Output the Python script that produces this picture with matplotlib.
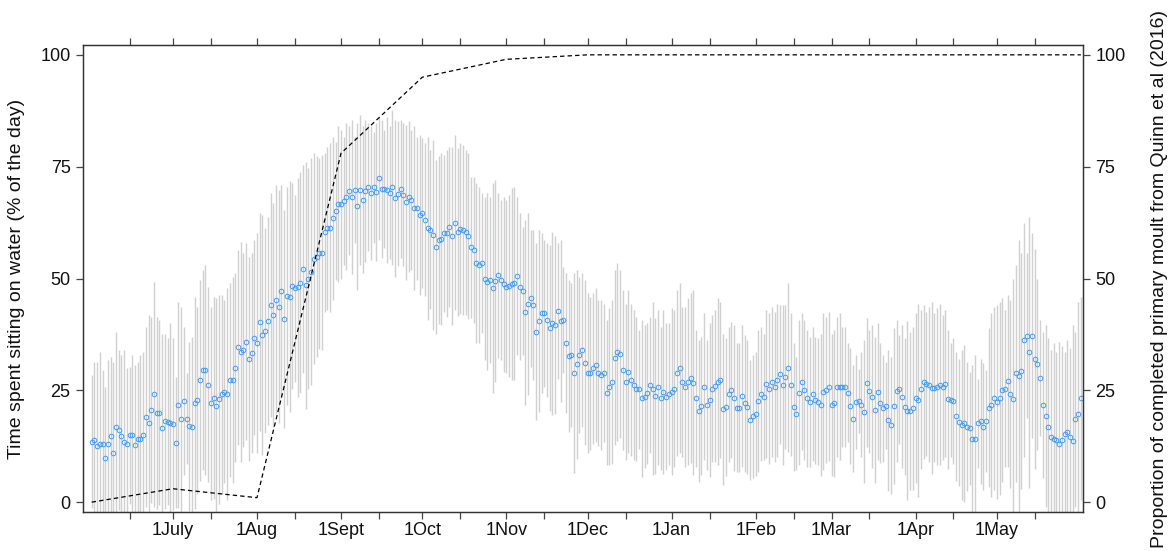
import numpy as np
import pandas as pd
import matplotlib
matplotlib.use('Agg')
import matplotlib.pyplot as plt
import matplotlib.dates as mdates

plt.rcParams['font.family'] = ['Liberation Sans', 'DejaVu Sans']

# daily mean time on water (%), 1 June onwards
mean_sitting = [
    13.5, 13.9, 12.5, 13.1, 13.1, 9.8, 12.9, 14.8, 11.1, 16.7,
    16.1, 14.8, 13.5, 13.1, 15.0, 15.0, 12.8, 14.1, 14.1, 15.1,
    19.1, 17.7, 20.7, 24.1, 20.0, 20.0, 16.5, 18.1, 18.0, 17.7,
    17.4, 13.3, 21.8, 18.7, 22.6, 18.7, 17.0, 16.7, 22.2, 22.8,
    27.2, 29.5, 29.5, 26.3, 22.1, 23.3, 21.5, 23.0, 24.1, 24.7,
    24.1, 27.3, 27.3, 30.1, 34.6, 33.6, 34.0, 35.9, 32.1, 33.3,
    36.8, 35.6, 40.3, 37.4, 38.3, 40.5, 44.1, 41.8, 45.3, 43.7,
    47.1, 40.9, 46.1, 45.9, 48.3, 47.8, 48.0, 49.1, 52.1, 48.5,
    49.9, 51.5, 54.4, 54.9, 55.6, 55.8, 60.3, 61.2, 61.4, 63.5,
    65.1,
    66.6, 66.6, 67.4, 68.3, 69.6, 68.3, 69.8, 66.1, 69.8, 67.6,
    69.6, 70.4, 69.1, 70.4, 69.3, 72.4, 70.0, 70.0, 69.8, 69.2,
    70.4, 67.9, 68.9, 70.0, 68.7, 67.0, 68.3, 67.6, 65.7, 65.7,
    64.2, 64.6, 63.1, 61.2, 60.9, 59.7, 57.0, 58.6, 58.8, 60.1,
    60.1, 61.6, 59.6, 62.5, 60.4, 61.1, 60.9, 60.3, 59.5, 57.0,
    56.4, 53.4, 53.0, 53.5, 50.0, 49.3, 49.7, 47.9, 49.4, 50.7,
    49.7, 48.7, 48.2, 48.3, 48.7, 48.9, 50.6, 48.2, 47.2, 42.4,
    44.3, 45.6, 44.1, 38.1, 40.5, 42.2, 42.2, 40.7, 38.9, 40.0,
    39.6, 42.7, 40.5, 40.7, 35.6, 32.7, 32.9, 28.9, 30.8, 32.9,
    34.0, 31.2, 28.8,
    28.8, 29.9, 30.6, 28.9, 28.4, 28.9, 24.5, 25.8, 26.9, 32.3,
    33.5, 33.1, 29.5, 26.9, 29.2, 27.4, 26.2, 25.4, 25.2, 23.2,
    23.6, 24.3, 26.2, 25.4, 23.7, 25.7, 23.2, 24.7, 23.6, 24.1,
    24.7, 25.4, 28.9, 29.9, 26.9, 25.8, 26.9, 27.7, 26.7, 23.2,
    20.4, 21.5, 25.8, 21.7, 22.8, 25.4, 26.0, 26.9, 27.3, 20.8,
    21.2, 24.1, 25.1, 23.3, 21.1, 21.1, 23.7, 22.1, 21.3, 18.3,
    19.2, 19.7, 22.6, 24.2, 23.6, 26.4, 25.4, 26.9, 25.8, 27.3,
    28.6, 26.2, 28.0, 30.1, 26.3, 21.2, 19.8, 24.5, 26.9, 25.1,
    23.2, 22.4, 24.2, 22.8, 22.4, 21.8, 24.7, 25.1, 25.8, 21.8,
    22.1, 25.8, 25.8,
    25.8, 25.8, 24.5, 21.5, 18.7, 22.4, 22.6, 21.8, 20.2, 26.7,
    24.8, 23.6, 20.6, 24.7, 22.1, 21.0, 21.6, 18.3, 17.2, 21.5,
    24.8, 25.2, 23.6, 21.3, 20.4, 20.4, 21.0, 23.2, 22.8, 25.2,
    26.9, 26.5, 26.3, 25.6, 25.6, 25.8, 26.3, 25.7, 26.5, 23.0,
    22.8, 22.6, 19.2, 17.9, 17.2, 17.6, 16.9, 16.5, 14.1, 14.1,
    17.6, 18.1, 16.9, 18.1, 21.1, 21.7, 23.2, 22.4, 23.2, 25.1,
    25.4, 27.1, 24.2, 23.0, 28.8, 28.2, 29.3, 36.2, 37.2, 33.5,
    37.2, 32.0, 30.8, 27.7, 21.8, 19.3, 16.9, 14.5, 14.1, 14.0,
    13.1, 13.9, 15.2, 15.6, 14.6, 13.7, 18.5, 19.6, 23.2,
]

# upper end of each daily bar (bars are symmetric about the mean)
upper_sitting = [
    28.4, 31.4, 31.4, 33.6, 29.5, 25.8, 31.8, 32.5, 31.4, 38.1,
    34.0, 32.9, 34.0, 29.9, 30.3, 32.9, 30.6, 31.4, 32.9, 33.6,
    39.2, 41.8, 41.5, 49.3, 41.5, 40.7, 37.7, 37.7, 36.6, 40.0,
    36.6, 28.0, 44.8, 43.7, 39.2, 28.8, 35.9, 37.0, 45.9, 43.7,
    49.7, 51.9, 53.0, 48.2, 43.7, 45.9, 45.6, 46.3, 46.3, 45.2,
    47.8, 48.9, 50.4, 51.2, 56.4, 58.2, 55.6, 57.9, 54.9, 55.6,
    58.6, 60.1, 64.6, 64.2, 61.2, 63.8, 69.1, 66.8, 70.9, 69.8,
    70.9, 65.3, 70.5, 71.7, 71.3, 68.7, 72.4, 73.9, 75.4, 76.1,
    74.6, 76.9, 78.0, 77.3, 76.9, 77.6, 78.0, 79.5, 80.2, 81.7,
    80.6,
    84.0, 83.2, 81.7, 84.7, 84.0, 85.5, 81.7, 84.7, 86.6, 84.0,
    85.5, 84.7, 84.0, 82.8, 84.7, 86.2, 85.5, 83.2, 86.2, 84.0,
    87.7, 85.5, 85.1, 85.5, 84.7, 84.3, 85.1, 83.2, 84.0, 81.7,
    82.1, 81.4, 80.2, 81.7, 78.7, 81.0, 76.5, 77.3, 78.0, 77.6,
    78.7, 79.5, 79.5, 82.1, 79.1, 80.2, 79.9, 78.7, 78.0, 72.8,
    72.8, 71.3, 70.5, 69.1, 68.3, 69.1, 68.3, 71.3, 72.0, 69.1,
    67.6, 68.3, 67.6, 68.7, 70.2, 70.5, 68.3, 64.6, 61.6, 63.1,
    64.6, 60.9, 60.9, 57.9, 60.9, 60.1, 58.6, 57.9, 57.5, 60.5,
    59.4, 57.9, 58.6, 52.6, 51.2, 49.7, 48.9, 51.2, 51.9, 50.4,
    51.2, 49.7, 46.7,
    45.9, 46.7, 47.8, 45.2, 45.2, 44.4, 40.7, 43.3, 45.2, 51.9,
    53.4, 51.9, 47.4, 44.4, 47.4, 44.4, 43.0, 41.5, 38.5, 40.7,
    39.6, 40.0, 41.5, 44.8, 41.1, 43.0, 39.2, 43.0, 40.0, 40.0,
    43.3, 43.0, 47.4, 48.9, 43.7, 43.7, 45.6, 46.7, 47.4, 38.5,
    36.2, 37.0, 42.2, 36.2, 40.0, 41.8, 43.0, 45.6, 44.8, 37.7,
    36.6, 39.2, 40.3, 39.6, 35.5, 35.5, 39.6, 37.4, 36.2, 31.7,
    32.9, 33.6, 38.5, 39.2, 37.7, 43.0, 42.2, 43.7, 42.6, 44.4,
    44.1, 44.1, 44.1, 48.9, 42.2, 35.5, 32.5, 40.7, 42.2, 40.7,
    38.5, 37.0, 39.2, 37.0, 36.6, 37.7, 42.2, 41.5, 42.4, 37.7,
    38.5, 41.5, 42.2,
    39.2, 39.2, 35.5, 34.5, 30.6, 32.9, 29.8, 33.6, 36.2, 41.1,
    38.5, 39.6, 37.0, 40.0, 35.5, 33.0, 31.4, 34.0, 32.5, 38.9,
    40.7, 37.4, 39.6, 36.6, 40.4, 38.1, 39.2, 42.2, 44.4, 43.0,
    44.1, 42.6, 43.7, 44.8, 42.2, 43.3, 44.4, 41.9, 43.0, 38.5,
    35.5, 36.6, 33.6, 32.1, 34.0, 35.1, 31.4, 29.1, 30.6, 32.9,
    27.5, 32.1, 31.0, 29.5, 38.9, 42.2, 43.7, 44.1, 44.8, 45.6,
    43.0, 46.3, 45.2, 50.0, 53.0, 58.6, 55.6, 62.3, 55.6, 63.8,
    60.1, 56.5, 50.0, 40.7, 38.1, 39.6, 36.6, 34.0, 35.5, 33.6,
    35.9, 34.8, 33.6, 36.2, 34.4, 39.6, 38.1, 44.8, 45.9,
]

# moult progress (Quinn et al 2016)
moult_dates = ['2014-06-01', '2014-07-01', '2014-08-01', '2014-09-01',
               '2014-10-01', '2014-11-01', '2014-12-01', '2015-06-01']
moult_pct = [0, 3, 1, 78, 95, 99, 100, 100]

month_labels = ['1July', '1Aug', '1Sept', '1Oct', '1Nov', '1Dec',
                '1Jan', '1Feb', '1Mar', '1Apr', '1May']

days = pd.date_range('2014-06-01', periods=len(mean_sitting), freq='D')
mean_arr = np.array(mean_sitting)
upper_arr = np.array(upper_sitting)
lower_arr = 2 * mean_arr - upper_arr

fig = plt.figure(figsize=(11.74, 5.51), dpi=100)
ax = fig.add_axes([83 / 1174, 1 - 512 / 551, 1000 / 1174, 467 / 551])

ax.vlines(days, lower_arr, upper_arr, color='#d0d0d0', lw=1.0, zorder=1)
ax.plot(days, mean_arr, 'o', mfc='none', mec='#3f9dfa', ms=3.3, mew=0.7,
        zorder=2)

x0 = mdates.date2num(pd.Timestamp('2014-06-01'))
ax.set_xlim(x0 - 3.2, x0 + 365.8)
ax.set_ylim(-2.2, 102.2)

month_ticks = pd.date_range('2014-07-01', periods=len(month_labels), freq='MS')
mid_ticks = [pd.Timestamp(d.year, d.month, 15) for d in
             pd.date_range('2014-06-01', periods=12, freq='MS')]
ax.set_xticks(month_ticks)
ax.set_xticklabels(month_labels)
ax.set_xticks(mid_ticks, minor=True)
ax.set_yticks([0, 25, 50, 75, 100])

ax2 = ax.twinx()
ax2.plot(pd.to_datetime(moult_dates), moult_pct, color='black', lw=0.9,
         dashes=(3.5, 2.5), zorder=3)
ax2.set_ylim(-2.2, 102.2)
ax2.set_yticks([0, 25, 50, 75, 100])
ax2.set_xlim(ax.get_xlim())

for a in (ax, ax2):
    for s in a.spines.values():
        s.set_color('#333333')
        s.set_linewidth(0.9)
    a.tick_params(which='both', direction='out', length=5, width=0.9,
                  color='#444444', labelsize=13, labelcolor='#111111',
                  pad=4)
ax.tick_params(which='both', top=True)
ax.tick_params(axis='x', pad=2)

ax.set_ylabel('Time spent sitting on water (% of the day)', fontsize=14,
              labelpad=11, color='#111111')
ax2.set_ylabel('Proportion of completed primary moult from Quinn et al (2016)',
               fontsize=14, labelpad=18, color='#111111')

fig.savefig('out.png', dpi=100)
